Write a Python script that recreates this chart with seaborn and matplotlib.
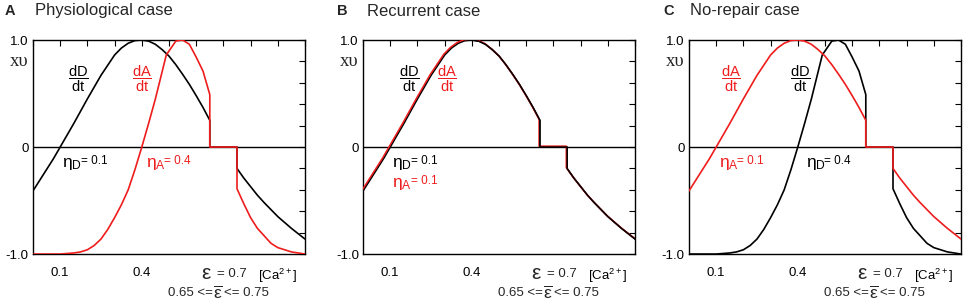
import numpy as np
import matplotlib
matplotlib.use('Agg')
import matplotlib.pyplot as plt
import matplotlib.transforms as mtransforms
import seaborn as sns

# Rate curves (Ca2+ level -> normalised rate, x v)
# curve for eta = 0.1
ca_eta01 = [0.0, 0.025, 0.05, 0.075, 0.10, 0.15, 0.20, 0.25, 0.30, 0.325, 0.35, 0.375, 0.40,
            0.425, 0.45, 0.475, 0.50, 0.525, 0.55, 0.575, 0.60, 0.625, 0.65, 0.65, 0.75, 0.75,
            0.775, 0.80, 0.825, 0.85, 0.90, 0.95, 1.00]
rate_eta01 = [-0.41, -0.31, -0.21, -0.11, 0.0, 0.22, 0.45, 0.67, 0.86, 0.925, 0.97, 0.995, 1.0,
              0.99, 0.96, 0.91, 0.85, 0.77, 0.68, 0.585, 0.48, 0.37, 0.25, 0.0, 0.0, -0.20,
              -0.29, -0.37, -0.45, -0.52, -0.65, -0.76, -0.86]

# curve for eta = 0.4
ca_eta04 = [0.0, 0.05, 0.10, 0.15, 0.175, 0.20, 0.225, 0.25, 0.275, 0.30, 0.325, 0.35, 0.375,
            0.40, 0.425, 0.45, 0.49, 0.525, 0.55, 0.575, 0.60, 0.625, 0.65, 0.65, 0.75, 0.75,
            0.775, 0.80, 0.825, 0.85, 0.875, 0.90, 0.95, 1.00]
rate_eta04 = [-1.0, -1.0, -1.0, -0.99, -0.98, -0.96, -0.92, -0.86, -0.77, -0.66, -0.54, -0.40,
              -0.21, 0.0, 0.22, 0.45, 0.86, 0.99, 1.0, 0.96, 0.84, 0.71, 0.49, 0.0, 0.0, -0.39,
              -0.53, -0.66, -0.76, -0.83, -0.90, -0.94, -0.98, -1.0]

curves = {0.1: (ca_eta01, rate_eta01), 0.4: (ca_eta04, rate_eta04)}

panel_letters = ['A', 'B', 'C']
panel_titles = ['Physiological case', 'Recurrent case', 'No-repair case']
eta_D = [0.1, 0.1, 0.4]
eta_A = [0.4, 0.1, 0.1]

x_tick_values = [0.0, 0.1, 0.2, 0.3, 0.4, 0.5, 0.6, 0.7, 0.8, 0.9, 1.0]
x_tick_labels = ['', '0.1', '', '', '0.4', '', '', '', '', '[Ca$^{2+}$]', '']
y_tick_values = [-1.0, -0.8, -0.6, -0.4, -0.2, 0.0, 0.2, 0.4, 0.6, 0.8, 1.0]
y_tick_labels = ['-1.0', '', '', '', '', '0', '', '', '', '', '1.0']

RED = '#ee1c1c'

sns.set_theme(style='white')
plt.rcParams['font.family'] = ['Liberation Sans', 'DejaVu Sans']
plt.rcParams.update({'mathtext.fontset': 'custom',
                     'mathtext.rm': 'Liberation Sans',
                     'mathtext.it': 'Liberation Sans:italic',
                     'mathtext.bf': 'Liberation Sans:bold',
                     'mathtext.sf': 'Liberation Sans'})

fig = plt.figure(figsize=(9.64, 3.01), dpi=100)
lefts = [0.0342, 0.3766, 0.7147]
letter_x = [5, 337, 663]
title_x = [35, 367, 690]

# label placement per panel (axes data coords)
frac_pos = [{'D': (0.165, 0.64), 'A': (0.40, 0.64)},
            {'D': (0.17, 0.64), 'A': (0.31, 0.64)},
            {'D': (0.41, 0.64), 'A': (0.153, 0.64)}]
eta_pos = [{'D': (0.108, -0.16), 'A': (0.415, -0.16)},
           {'D': (0.108, -0.16), 'A': (0.108, -0.35)},
           {'D': (0.43, -0.16), 'A': (0.11, -0.16)}]


def add_calcium_labels(ax):
    trans = ax.get_xaxis_transform()
    ax.text(0.636, -0.093, 'ε', transform=trans, ha='center', va='center', fontsize=15)
    ax.text(0.676, -0.093, '= 0.7', transform=trans, ha='left', va='center', fontsize=9.5)
    ax.text(0.662, -0.18, '0.65 <=', transform=trans, ha='right', va='center', fontsize=9.5)
    ax.text(0.681, -0.18, r'$\overline{\mathrm{\varepsilon}}$', transform=trans,
            ha='center', va='center', fontsize=12.5)
    ax.text(0.702, -0.18, '<= 0.75', transform=trans, ha='left', va='center', fontsize=9.5)


for i in range(3):
    ax = fig.add_axes([lefts[i], 0.156, 0.2822, 0.711])
    ax.axhline(0, color='black', lw=1.0, zorder=1)

    xa, ya = curves[eta_A[i]]
    xd, yd = curves[eta_D[i]]
    if i == 1:
        # identical curves: nudge the red one a pixel so both stay visible
        sns.lineplot(x=xd, y=yd, ax=ax, color='black', lw=1.2, sort=False, estimator=None, zorder=2)
        shift = mtransforms.ScaledTranslation(-0.8 / 100, 0.9 / 100, fig.dpi_scale_trans)
        sns.lineplot(x=xa, y=ya, ax=ax, color=RED, lw=1.1, sort=False, estimator=None, zorder=3)
        ax.lines[-1].set_transform(ax.transData + shift)
        sns.lineplot(x=xd[12:], y=yd[12:], ax=ax, color='black', lw=1.0, sort=False,
                     estimator=None, zorder=4)
    else:
        sns.lineplot(x=xd, y=yd, ax=ax, color='black', lw=1.2, sort=False, estimator=None, zorder=2)
        sns.lineplot(x=xa, y=ya, ax=ax, color=RED, lw=1.2, sort=False, estimator=None, zorder=3)

    ax.set_xlim(0, 1)
    ax.set_ylim(-1, 1)
    ax.set_xticks(x_tick_values)
    ax.set_xticklabels(x_tick_labels)
    ax.set_yticks(y_tick_values)
    ax.set_yticklabels(y_tick_labels)
    ax.tick_params(direction='in', top=True, right=True, length=4, width=0.8,
                   color='black', labelsize=9.5, labelcolor='black')
    ax.tick_params(axis='x', pad=9)
    ax.tick_params(axis='y', pad=3)
    ax.set_xlabel('')
    ax.set_ylabel('')
    for sp in ax.spines.values():
        sp.set_color('black')
        sp.set_linewidth(1.0)

    ax.text(-0.018, 0.8, 'xυ', transform=ax.get_yaxis_transform(), ha='right', va='center',
            fontsize=13.5, family='Liberation Serif')

    # rate labels
    fx, fy = frac_pos[i]['D']
    ax.text(fx, fy, r'$\dfrac{\mathrm{dD}}{\mathrm{dt}}$', ha='center', va='center',
            fontsize=10.5, color='black')
    fx, fy = frac_pos[i]['A']
    ax.text(fx, fy, r'$\dfrac{\mathrm{dA}}{\mathrm{dt}}$', ha='center', va='center',
            fontsize=10.5, color=RED)

    for key, val, col in [('D', eta_D[i], 'black'), ('A', eta_A[i], RED)]:
        ex, ey = eta_pos[i][key]
        ax.text(ex, ey, r'$\mathrm{\eta}_{\mathrm{%s}}$' % key, ha='left', va='center',
                fontsize=12.5, color=col)
        ax.text(ex + 0.068, ey + 0.03, f'= {val}', ha='left', va='center',
                fontsize=8.5, color=col)

    add_calcium_labels(ax)

    fig.text(letter_x[i] / 964, 1 - 11 / 301, panel_letters[i], ha='left', va='center',
             fontsize=10.5, fontweight='bold')
    fig.text(title_x[i] / 964, 1 - 11 / 301, panel_titles[i], ha='left', va='center',
             fontsize=12)

fig.savefig('out.png', dpi=100)
